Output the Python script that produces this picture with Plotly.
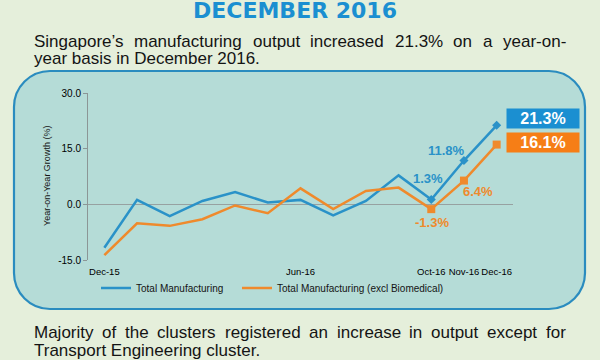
import plotly.graph_objects as go

# ---------------- data ----------------
months = ["Dec-15", "Jan-16", "Feb-16", "Mar-16", "Apr-16", "May-16", "Jun-16",
          "Jul-16", "Aug-16", "Sep-16", "Oct-16", "Nov-16", "Dec-16"]
total_mfg = [-11.7, 1.2, -3.2, 0.9, 3.3, 0.5, 1.2, -3.0, 0.9, 7.8, 1.3, 11.8, 21.3]
excl_biomed = [-13.7, -5.1, -5.8, -4.0, -0.3, -2.4, 4.3, -1.3, 3.6, 4.5, -1.3, 6.4, 16.1]
tick_months = ["Dec-15", "Jun-16", "Oct-16", "Nov-16", "Dec-16"]
y_ticks = [-15, 0, 15, 30]
series_names = ["Total Manufacturing", "Total Manufacturing (excl Biomedical)"]

title_text = "DECEMBER 2016"
top_lines = ["Singapore’s manufacturing output increased 21.3% on a year-on-",
             "year basis in December 2016."]
bottom_lines = ["Majority of the clusters registered an increase in output except for",
                "Transport Engineering cluster."]
y_title = "Year-on-Year Growth (%)"

# ---------------- style ----------------
BLUE = "#2a92c8"
ORANGE = "#ef8a2c"
BOX_BLUE = "#1b8fd1"
BOX_ORANGE = "#f67e16"
BG = "#e5efdb"
PANEL = "#b5dcd7"
BORDER = "#2a8cbf"
TXT = "#141414"

W, H = 600, 360
L, R, T, B = 88, 513, 93, 260  # plot area in px


def px(x):
    return (x - L) / (R - L)


def py(y):
    return (B - y) / (B - T)


# Arial / Liberation Sans advance widths (per 1000 em)
AW = {' ': 278, '’': 222, "'": 191, '-': 333, '.': 278, '%': 889}
for c in "0123456789":
    AW[c] = 556
AW.update(dict(zip("ABCDEFGHIJKLMNOPQRSTUVWXYZ",
                   [667, 667, 722, 722, 667, 611, 778, 722, 278, 500, 667, 556, 833,
                    722, 778, 667, 778, 722, 667, 611, 722, 667, 944, 667, 667, 611])))
AW.update(dict(zip("abcdefghijklmnopqrstuvwxyz",
                   [556, 556, 500, 556, 556, 278, 556, 556, 222, 222, 500, 222, 833,
                    556, 556, 556, 556, 333, 500, 278, 556, 500, 722, 500, 500, 500])))


def text_w(s, size):
    return sum(AW.get(c, 556) for c in s) * size / 1000.0


annotations = []
BODY_FONT = dict(family="Liberation Sans, Arial, sans-serif", size=17, color=TXT)


def add_line(line, x0, x1, yc, justify):
    words = line.split(" ")
    if not justify or len(words) < 2:
        annotations.append(dict(text=line, xref="paper", yref="paper", x=px(x0), y=py(yc),
                                xanchor="left", yanchor="middle", showarrow=False,
                                font=BODY_FONT, borderpad=0))
        return
    widths = [text_w(w, BODY_FONT["size"]) for w in words]
    gap = (x1 - x0 - sum(widths)) / (len(words) - 1)
    x = x0
    for w, wd in zip(words, widths):
        annotations.append(dict(text=w, xref="paper", yref="paper", x=px(x), y=py(yc),
                                xanchor="left", yanchor="middle", showarrow=False,
                                font=BODY_FONT, borderpad=0))
        x += wd + gap


add_line(top_lines[0], 33, 565, 41, True)
add_line(top_lines[1], 33, 565, 59, False)
add_line(bottom_lines[0], 33, 565, 332, True)
add_line(bottom_lines[1], 33, 565, 350, False)

# title
annotations.append(dict(text="<b>" + title_text + "</b>", xref="paper", yref="paper",
                        x=px(295), y=py(11), xanchor="center", yanchor="middle",
                        showarrow=False, borderpad=0,
                        font=dict(family="DejaVu Sans", size=22, color=BOX_BLUE)))

# y-axis title
annotations.append(dict(text=y_title, xref="paper", yref="paper", x=px(47), y=py(176),
                        xanchor="center", yanchor="middle", textangle=-90,
                        showarrow=False,
                        font=dict(family="Liberation Sans, Arial", size=9, color=TXT)))

# data labels (value texts from the data arrays)
lab_font = dict(family="Liberation Sans, Arial", size=13)
annotations += [
    dict(x=months[11], y=total_mfg[11], text="<b>%.1f%%</b>" % total_mfg[11],
         xshift=-17, yshift=10, showarrow=False, font=dict(lab_font, color=BLUE)),
    dict(x=months[10], y=total_mfg[10], text="<b>%.1f%%</b>" % total_mfg[10],
         xshift=-3, yshift=21, showarrow=False, font=dict(lab_font, color=BLUE)),
    dict(x=months[10], y=excl_biomed[10], text="<b>%.1f%%</b>" % excl_biomed[10],
         xshift=1, yshift=-13, showarrow=False, font=dict(lab_font, color=ORANGE)),
    dict(x=months[11], y=excl_biomed[11], text="<b>%.1f%%</b>" % excl_biomed[11],
         xshift=14, yshift=-11, showarrow=False, font=dict(lab_font, color=ORANGE)),
    dict(x=months[12], y=total_mfg[12], text="<b>%.1f%%</b>" % total_mfg[12],
         xanchor="left", yanchor="middle", xshift=9, yshift=6.5, showarrow=False,
         width=72, height=19, bgcolor=BOX_BLUE, borderpad=0,
         font=dict(family="Liberation Sans, Arial", size=16, color="white")),
    dict(x=months[12], y=excl_biomed[12], text="<b>%.1f%%</b>" % excl_biomed[12],
         xanchor="left", yanchor="middle", xshift=9, yshift=2, showarrow=False,
         width=72, height=19, bgcolor=BOX_ORANGE, borderpad=0,
         font=dict(family="Liberation Sans, Arial", size=16, color="white")),
]

# rounded panel behind chart (pixel geometry -> paper coords)
x0, y0, x1, y1, r = 14, 71, 585, 309, 36
k = 0.5523 * r


def P(x, y):
    return "%.5f,%.5f" % (px(x), py(y))


path = ("M " + P(x0 + r, y0) + " L " + P(x1 - r, y0) +
        " C " + P(x1 - r + k, y0) + " " + P(x1, y0 + r - k) + " " + P(x1, y0 + r) +
        " L " + P(x1, y1 - r) +
        " C " + P(x1, y1 - r + k) + " " + P(x1 - r + k, y1) + " " + P(x1 - r, y1) +
        " L " + P(x0 + r, y1) +
        " C " + P(x0 + r - k, y1) + " " + P(x0, y1 - r + k) + " " + P(x0, y1 - r) +
        " L " + P(x0, y0 + r) +
        " C " + P(x0, y0 + r - k) + " " + P(x0 + r - k, y0) + " " + P(x0 + r, y0) + " Z")

shapes = [dict(type="path", xref="paper", yref="paper", path=path, fillcolor=PANEL,
               line=dict(color=BORDER, width=2.2), layer="below")]

fig = go.Figure()
fig.add_trace(go.Scatter(
    x=months, y=total_mfg, name=series_names[0], mode="lines", legend="legend",
    line=dict(color=BLUE, width=2.5), hoverinfo="skip"))
fig.add_trace(go.Scatter(
    x=months, y=excl_biomed, name=series_names[1], mode="lines", legend="legend2",
    line=dict(color=ORANGE, width=2.5), hoverinfo="skip"))
# markers on the last three months
fig.add_trace(go.Scatter(
    x=months[-3:], y=total_mfg[-3:], mode="markers", showlegend=False,
    marker=dict(symbol="diamond", size=7, color=BLUE), hoverinfo="skip"))
fig.add_trace(go.Scatter(
    x=months[-3:], y=excl_biomed[-3:], mode="markers", showlegend=False,
    marker=dict(symbol="square", size=8, color=ORANGE), hoverinfo="skip"))

leg_common = dict(orientation="h", xanchor="left", yanchor="middle",
                  bgcolor="rgba(0,0,0,0)", itemwidth=30,
                  font=dict(family="Liberation Sans, Arial", size=10, color=TXT),
                  itemclick=False, itemdoubleclick=False)

n = len(months)
fig.update_layout(
    width=W, height=H,
    margin=dict(l=L, r=W - R, t=T, b=H - B, pad=0, autoexpand=False),
    paper_bgcolor=BG, plot_bgcolor="rgba(0,0,0,0)",
    showlegend=True, hovermode=False,
    legend=dict(leg_common, x=px(96), y=py(288)),
    legend2=dict(leg_common, x=px(237), y=py(288)),
    xaxis=dict(type="category", categoryorder="array", categoryarray=months,
               range=[-0.5, n - 0.5], tickmode="array", tickvals=tick_months,
               ticktext=tick_months, tickangle=0, automargin=False,
               ticklabelstandoff=4,
               showgrid=False, showline=False, zeroline=False,
               ticks="", ticklen=0,
               tickfont=dict(family="Liberation Sans, Arial", size=9.5, color="#000")),
    yaxis=dict(range=[-15, 30], tickmode="array", tickvals=y_ticks, automargin=False,
               ticktext=["%.1f" % v for v in y_ticks], showgrid=False,
               showline=True, linecolor="#8c9696", linewidth=1,
               ticks="outside", ticklen=4, tickcolor="#8c9696",
               zeroline=True, zerolinecolor="#97a1a1", zerolinewidth=1.5,
               tickfont=dict(family="Liberation Sans, Arial", size=10, color="#000")),
    annotations=annotations,
    shapes=shapes,
    font=dict(family="Liberation Sans, Arial"),
)

fig.write_html("out.html",
               config={"displayModeBar": False, "staticPlot": True},
               post_script="document.body.style.margin='0';document.body.style.background='%s';" % BG)
